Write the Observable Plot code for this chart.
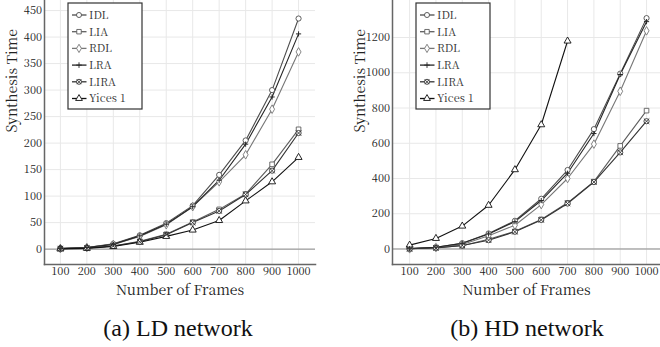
<!DOCTYPE html>
<html><head><meta charset="utf-8">
<script src="https://cdn.jsdelivr.net/npm/d3@7"></script>
<script src="https://cdn.jsdelivr.net/npm/@observablehq/plot@0.6"></script>
<style>
html,body{margin:0;padding:0;background:#fff}
body{width:660px;height:347px;overflow:hidden;position:relative}
.panel{position:absolute;top:0}
#a{left:0}
#b{left:330px}
.cap{position:absolute;top:316px;width:300px;text-align:center;font-size:24px;line-height:24px;color:#111}
</style>
</head><body>
<div id="a" class="panel"></div>
<div id="b" class="panel"></div>
<div class="cap" style="left:28px;font-family:'Liberation Serif',serif">(a) LD network</div>
<div class="cap" style="left:377px;font-family:'Liberation Serif',serif">(b) HD network</div>
<script>
const frames = [100, 200, 300, 400, 500, 600, 700, 800, 900, 1000];
const series = ["IDL", "LIA", "RDL", "LRA", "LIRA", "Yices 1"];
const seriesColors = ["#4d4d4d", "#5e5e5e", "#777777", "#262626", "#333333", "#111111"];
const seriesSymbols = ["circle", "square", "diamond", "plus", "circle", "triangle"];

// (a) LD network
const ldIDL   = [1, 3, 10, 26, 49, 82, 140, 205, 300, 435];
const ldLIA   = [1, 2, 6, 15, 28, 51, 75, 104, 160, 226];
const ldRDL   = [1, 3, 9, 24, 46, 80, 127, 178, 264, 372];
const ldLRA   = [1, 3, 9, 25, 47, 80, 130, 198, 287, 406];
const ldLIRA  = [1, 2, 6, 14, 27, 50, 72, 103, 148, 219];
const ldYices = [0.5, 1.5, 5, 13, 24, 36, 54, 91, 127, 173];
const ldTicks = [0, 50, 100, 150, 200, 250, 300, 350, 400, 450];

// (b) HD network
const hdIDL   = [2, 10, 33, 88, 160, 285, 448, 680, 995, 1310];
const hdLIA   = [1, 7, 18, 55, 100, 168, 262, 382, 585, 785];
const hdRDL   = [1, 8, 25, 75, 135, 252, 400, 595, 895, 1238];
const hdLRA   = [2, 10, 32, 85, 155, 275, 430, 655, 990, 1290];
const hdLIRA  = [1, 6, 20, 50, 98, 165, 258, 380, 548, 725];
const hdYices = [22, 60, 130, 248, 450, 705, 1180];
const hdTicks = [0, 200, 400, 600, 800, 1000, 1200];

const FONT = "'Noto Serif CJK SC', 'Liberation Serif', serif";

function rows(lists) {
  const out = [];
  lists.forEach((vals, i) => vals.forEach((v, j) => out.push({series: series[i], frame: frames[j], time: v})));
  return out;
}

function panel({data, width, marginLeft, marginRight, xDomain, yDomain, yTicks}) {
  const plot = Plot.plot({
    width, height: 305, marginTop: 0, marginBottom: 41, marginLeft, marginRight,
    style: {fontFamily: FONT, fontSize: "11px", color: "#222", background: "#fff", overflow: "visible"},
    x: {domain: xDomain},
    y: {domain: yDomain},
    color: {domain: series, range: seriesColors},
    symbol: {domain: series, range: seriesSymbols},
    marks: [
      Plot.gridX(frames, {stroke: "#e8e8e8", strokeOpacity: 1}),
      Plot.gridY(yTicks, {stroke: "#e8e8e8", strokeOpacity: 1}),
      Plot.ruleY([0], {stroke: "#8a8a8a", strokeWidth: 1}),
      Plot.axisX(frames, {tickSize: 0, tickPadding: 3, label: null, fontSize: 11, fill: "#222", tickFormat: d => String(d)}),
      Plot.axisY(yTicks, {tickSize: 0, tickPadding: 2.5, label: null, fontSize: 11, fill: "#222", tickFormat: d => String(d)}),
      Plot.frame({anchor: "left", stroke: "#666", strokeWidth: 1.5}),
      Plot.frame({anchor: "bottom", stroke: "#666", strokeWidth: 1.5}),
      Plot.text(["Number of Frames"], {frameAnchor: "bottom", dy: 30, fontSize: 14, fill: "#222"}),
      Plot.text(["Synthesis Time"], {frameAnchor: "left", dx: -32, rotate: -90, fontSize: 14, fill: "#222"}),
      Plot.line(data, {x: "frame", y: "time", z: "series", stroke: "series", strokeWidth: 1.1}),
      Plot.dot(data.filter(d => d.series !== "LRA"), {x: "frame", y: "time", symbol: "series", stroke: "series", fill: "white", r: 2.6, strokeWidth: 0.9}),
      Plot.dot(data.filter(d => d.series === "LRA"), {x: "frame", y: "time", symbol: "series", stroke: "series", r: 1.8, strokeWidth: 1}),
      Plot.dot(data.filter(d => d.series === "LIRA"), {x: "frame", y: "time", symbol: "times", stroke: "series", r: 2.6, strokeWidth: 0.9})
    ]
  });
  // legend
  const svg = d3.select(plot);
  const lx = marginLeft + 24, ly = 3, lw = 74, lh = 106;
  const g = svg.append("g").attr("text-anchor", "start");
  g.append("rect").attr("x", lx).attr("y", ly).attr("width", lw).attr("height", lh)
    .attr("fill", "white").attr("stroke", "#333").attr("stroke-width", 1.2);
  const symMap = {circle: d3.symbolCircle, square: d3.symbolSquare, diamond: d3.symbolDiamond, plus: d3.symbolPlus, triangle: d3.symbolTriangle, times: d3.symbolTimes};
  series.forEach((s, i) => {
    const y = ly + 12 + i * 16.7;
    const c = seriesColors[i];
    g.append("line").attr("x1", lx + 4).attr("x2", lx + 18.5).attr("y1", y).attr("y2", y).attr("stroke", c).attr("stroke-width", 1.3);
    const sym = seriesSymbols[i];
    g.append("path").attr("transform", `translate(${lx + 11},${y})`)
      .attr("d", d3.symbol(symMap[sym], sym === "plus" ? 12 : 20)())
      .attr("fill", "white").attr("stroke", c).attr("stroke-width", 0.9);
    if (s === "LIRA") g.append("path").attr("transform", `translate(${lx + 11},${y})`)
      .attr("d", d3.symbol(d3.symbolTimes, 16)()).attr("fill", "none").attr("stroke", c).attr("stroke-width", 0.9);
    g.append("text").attr("x", lx + 21).attr("y", y).attr("dy", "0.35em")
      .attr("font-size", 11).attr("fill", "#333").attr("text-anchor", "start").text(s);
  });
  return plot;
}

document.getElementById("a").append(panel({
  data: rows([ldIDL, ldLIA, ldRDL, ldLRA, ldLIRA, ldYices]),
  width: 330, marginLeft: 44, marginRight: 15,
  xDomain: [40, 1064], yDomain: [-29, 469], yTicks: ldTicks
}));
document.getElementById("b").append(panel({
  data: rows([hdIDL, hdLIA, hdRDL, hdLRA, hdLIRA, hdYices]),
  width: 330, marginLeft: 62, marginRight: 0,
  xDomain: [35, 1053], yDomain: [-88, 1410], yTicks: hdTicks
}));
</script>
</body></html>
